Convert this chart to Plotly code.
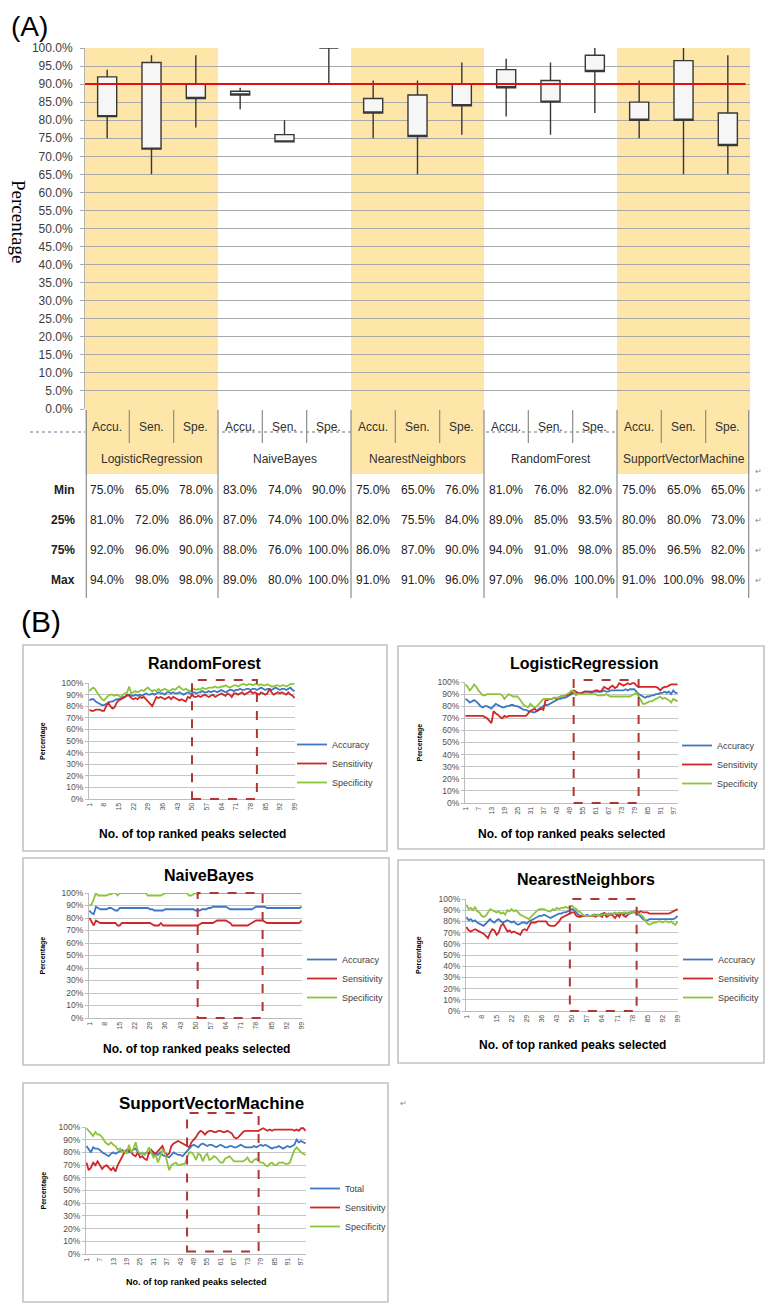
import plotly.graph_objects as go

W, H = 773, 1305

# ---------------- Panel A data ----------------
models = ["LogisticRegression", "NaiveBayes", "NearestNeighbors", "RandomForest", "SupportVectorMachine"]
metrics = ["Accu.", "Sen.", "Spe."]
stat_names = ["Min", "25%", "75%", "Max"]
box_min = [75.0, 65.0, 78.0, 83.0, 74.0, 90.0, 75.0, 65.0, 76.0, 81.0, 76.0, 82.0, 75.0, 65.0, 65.0]
box_q1 = [81.0, 72.0, 86.0, 87.0, 74.0, 100.0, 82.0, 75.5, 84.0, 89.0, 85.0, 93.5, 80.0, 80.0, 73.0]
box_q3 = [92.0, 96.0, 90.0, 88.0, 76.0, 100.0, 86.0, 87.0, 90.0, 94.0, 91.0, 98.0, 85.0, 96.5, 82.0]
box_max = [94.0, 98.0, 98.0, 89.0, 80.0, 100.0, 91.0, 91.0, 96.0, 97.0, 96.0, 100.0, 91.0, 100.0, 98.0]
threshold = 90.0
ticks_a = [0, 5, 10, 15, 20, 25, 30, 35, 40, 45, 50, 55, 60, 65, 70, 75, 80, 85, 90, 95, 100]

# ---------------- Panel B data ----------------
peaks = list(range(1, 100))
ticks_7 = [1, 8, 15, 22, 29, 36, 43, 50, 57, 64, 71, 78, 85, 92, 99]
ticks_6 = [1, 7, 13, 19, 25, 31, 37, 43, 49, 55, 61, 67, 73, 79, 85, 91, 97]
ticks_b = [0, 10, 20, 30, 40, 50, 60, 70, 80, 90, 100]
names_std = ["Accuracy", "Sensitivity", "Specificity"]
names_svm = ["Total", "Sensitivity", "Specificity"]

rf_acc = [85,86,86,84,83,82,81,81,82,83,
          84,84,85,86,86,87,88,88,89,90,
          89,89,90,89,90,89,90,91,90,90,
          91,90,91,92,91,91,90,92,92,91,
          92,91,91,92,91,90,91,92,91,91,
          92,91,92,92,93,92,92,93,92,93,
          93,92,93,94,93,92,93,94,94,93,
          94,94,95,94,94,95,95,94,95,95,
          94,95,96,95,94,95,95,94,95,96,
          95,94,95,95,94,95,96,94,93]
rf_sen = [77,76,76,77,77,77,76,76,80,83,
          80,78,79,83,85,86,87,88,90,89,
          87,86,87,86,88,87,88,86,84,82,
          80,84,88,87,88,87,86,87,88,86,
          88,87,86,85,86,85,84,88,87,90,
          88,88,89,88,89,90,89,88,89,90,
          88,89,90,91,90,89,91,90,88,91,
          91,90,91,92,90,91,92,93,91,92,
          91,90,92,91,90,91,95,92,90,91,
          92,91,92,91,90,92,90,89,87]
rf_spe = [93,95,96,94,91,88,86,85,87,89,
          90,90,89,90,89,88,90,91,92,97,
          91,92,93,92,93,94,93,95,96,94,
          93,94,93,95,93,94,95,94,93,94,
          95,94,96,97,95,94,95,94,93,94,
          95,94,95,94,96,95,95,96,96,96,
          97,96,96,97,97,98,97,96,97,98,
          98,97,98,99,99,98,99,99,98,99,
          99,98,99,98,98,99,98,97,97,98,
          98,97,98,98,97,98,99,99,100]

lr_acc = [86,85,83,84,85,84,82,80,79,80,
          80,79,78,80,82,81,80,79,79,80,
          80,81,81,80,80,79,78,77,77,76,
          76,75,75,76,78,79,80,81,81,82,
          83,84,85,86,86,87,87,88,89,90,
          91,90,90,91,91,92,92,92,91,92,
          92,92,92,92,93,92,92,93,93,93,
          93,93,93,93,94,93,94,94,94,92,
          90,89,88,87,88,88,89,89,90,90,
          91,91,92,91,92,90,93,91,91]
lr_sen = [72,72,72,72,72,72,72,72,72,71,
          70,68,66,76,74,73,71,70,72,71,
          72,72,72,72,72,72,72,72,72,74,
          76,77,78,76,77,78,77,85,85,86,
          86,87,86,87,88,88,89,89,90,91,
          93,92,91,90,91,92,92,92,92,92,
          93,93,92,93,96,95,94,96,97,95,
          96,99,98,97,98,99,98,99,99,97,
          96,96,96,96,96,96,96,96,96,95,
          93,95,96,96,97,98,98,98,98]
lr_spe = [98,96,93,95,98,96,93,91,89,89,
          90,90,90,90,90,90,90,89,86,88,
          90,89,88,88,88,86,83,81,80,79,
          82,80,79,80,82,84,86,86,86,86,
          86,87,87,87,88,88,89,90,91,93,
          92,89,90,90,90,90,90,90,90,90,
          90,89,89,89,89,90,89,88,88,88,
          88,88,88,88,88,88,88,89,90,91,
          88,85,82,82,83,84,84,85,86,87,
          88,86,87,86,85,83,86,85,84]

nb_acc = [86,84,83,89,88,87,87,87,87,88,
          88,87,86,86,88,88,88,88,88,88,
          88,88,88,88,88,88,88,88,87,87,
          86,86,86,86,86,87,87,87,87,87,
          87,87,87,87,87,87,87,87,87,86,
          86,86,87,87,87,88,88,89,89,89,
          89,89,89,89,88,87,87,87,87,87,
          87,87,87,87,87,87,88,89,89,89,
          89,89,88,88,88,88,88,88,88,88,
          88,88,88,88,88,88,88,88,89]
nb_sen = [80,77,74,78,77,76,76,76,76,76,
          76,76,76,74,74,76,76,76,76,76,
          76,76,76,76,76,76,76,76,76,75,
          74,74,74,76,74,74,74,74,74,74,
          74,74,74,74,74,74,74,74,74,74,
          74,75,76,76,76,76,76,76,77,78,
          78,78,78,78,77,76,74,74,74,74,
          74,74,74,74,75,76,77,78,78,78,
          78,77,76,76,76,76,76,76,76,76,
          76,76,76,76,76,76,76,76,78]
nb_spe = [90,91,95,100,98,98,98,98,98,99,
          99,100,100,98,100,100,100,100,100,100,
          100,100,100,100,100,100,100,98,98,98,
          98,98,98,98,99,100,100,100,100,100,
          100,100,100,100,100,100,98,98,99,100,
          99,100,100,100,100,100,100,100,100,100,
          100,100,100,100,100,100,100,100,100,100,
          100,100,100,100,100,100,100,100,100,100,
          100,100,100,100,100,100,100,100,100,100,
          100,100,100,100,100,100,100,100,100]

nn_acc = [84,81,82,80,81,79,78,77,76,78,
          80,82,80,79,81,82,80,79,80,81,
          80,79,80,78,77,78,79,79,78,80,
          81,82,83,84,85,85,86,85,84,83,
          84,85,86,87,87,88,88,89,90,91,
          90,88,86,85,85,85,86,85,85,86,
          86,85,86,87,86,86,87,86,87,87,
          86,87,87,86,87,88,87,88,88,87,
          86,84,82,81,81,82,82,82,82,82,
          82,82,82,82,82,82,82,83,85]
nn_sen = [75,72,71,72,73,72,71,70,69,67,
          65,70,73,72,68,70,76,78,74,71,
          72,70,71,70,69,68,72,73,72,76,
          79,79,79,80,80,80,80,80,77,76,
          76,76,78,80,83,84,85,86,87,88,
          88,85,84,84,85,85,85,85,85,85,
          84,86,85,84,88,84,85,87,85,83,
          86,84,88,85,84,86,88,88,89,89,
          88,89,88,88,88,87,87,87,87,87,
          87,87,87,87,87,88,89,90,91]
nn_spe = [95,91,92,90,93,89,88,85,84,85,
          88,91,90,89,88,89,87,88,86,90,
          89,91,89,90,88,86,85,84,83,82,
          84,86,88,90,91,91,91,90,89,89,
          91,90,92,91,92,92,93,92,93,94,
          92,91,89,88,86,85,85,85,85,86,
          85,86,85,86,86,87,86,87,87,88,
          87,88,87,88,88,87,88,88,89,88,
          87,86,84,81,78,77,78,79,79,80,
          80,79,80,80,79,80,78,77,80]

svm_acc = [85,82,80,84,83,83,82,80,79,78,
           77,79,80,79,80,81,82,80,82,80,
           81,82,83,80,79,79,79,80,79,81,
           78,79,78,80,78,77,77,76,78,80,
           79,78,78,77,79,81,83,85,86,85,
           84,86,87,86,85,86,86,85,84,85,
           86,85,84,84,85,85,84,84,85,86,
           85,84,84,84,84,85,84,85,86,85,
           86,85,84,83,84,84,85,84,83,84,
           85,84,85,86,90,88,89,88,87]
svm_sen = [72,66,68,72,70,73,70,67,69,70,
           68,66,68,65,70,73,76,80,81,82,
           80,78,77,80,76,77,75,74,80,82,
           80,79,81,83,85,80,78,79,85,87,
           88,89,88,87,86,85,84,88,90,92,
           95,97,96,94,96,97,97,96,96,97,
           97,96,96,97,96,95,92,91,92,94,
           96,97,97,97,97,97,97,97,98,99,
           98,97,98,97,98,98,98,98,98,98,
           98,98,98,97,98,97,99,99,97]
svm_spe = [99,97,95,93,96,94,94,92,89,87,
           86,88,86,85,82,83,80,81,79,86,
           80,83,88,81,79,80,78,80,84,80,
           76,78,72,77,82,80,72,66,70,71,
           72,70,70,71,71,76,80,80,78,74,
           79,78,73,77,79,74,75,77,76,74,
           72,72,75,76,77,75,73,73,73,73,
           73,74,76,73,72,74,75,73,72,72,
           70,69,71,72,70,70,72,72,72,71,
           71,72,78,82,84,82,80,79,78]

chart_titles = ["RandomForest", "LogisticRegression", "NaiveBayes", "NearestNeighbors", "SupportVectorMachine"]
window_start = [50, 51, 51, 49, 46]
window_end = [81, 81, 81, 80, 78]
x_title = "No. of top ranked peaks selected"
y_title_b = "Percentage"

# ---------------- helpers ----------------
OFF = 8  # page body margin of the html page


def fx(p):
    return (p - OFF) / W


def fy(p):
    return 1 - (p - OFF) / H


SANS = "Liberation Sans, Arial, sans-serif"
SERIF = "Liberation Serif, Times New Roman, serif"
C_ACC, C_SEN, C_SPE = "#3c78c3", "#d0282a", "#8cc43c"
YELLOW = "#fde6a8"

annotations = []
shapes = []


def ann(text, x, y, xref="paper", yref="paper", size=12, color="#202020", family=SANS,
        xanchor="center", angle=0):
    annotations.append(dict(text=text, x=x, y=y, xref=xref, yref=yref, showarrow=False,
                            xanchor=xanchor, yanchor="middle", textangle=angle,
                            font=dict(family=family, size=size, color=color)))


fig = go.Figure()

# ---------------- Panel A : box chart ----------------
positions = list(range(len(box_q1)))
n = len(box_q1)
fig.add_trace(go.Box(
    x=positions, q1=box_q1, median=box_q1, q3=box_q3,
    lowerfence=box_min, upperfence=box_max,
    width=0.43, whiskerwidth=0, fillcolor="#f6f6f6",
    line=dict(color="#383838", width=1.4),
    showlegend=False, hoverinfo="skip", xaxis="x", yaxis="y"))

shapes.append(dict(type="line", xref="paper", yref="paper", x0=fx(30), x1=fx(750),
                   y0=fy(432), y1=fy(432), line=dict(color="#9aa5b5", width=1.5, dash="dot"),
                   layer="below"))
for g in range(len(models)):
    if g % 2 == 0:
        shapes.append(dict(type="rect", xref="x", yref="paper", x0=3 * g - 0.5, x1=3 * g + 2.5,
                           y0=fy(474), y1=fy(48), fillcolor=YELLOW, line=dict(width=0),
                           layer="below"))
shapes.append(dict(type="line", xref="x", yref="y", x0=-0.5, x1=n - 0.6,
                   y0=threshold, y1=threshold, line=dict(color="#e01010", width=2), layer="above"))

for i in range(n - 1):
    b = i + 0.5
    if (i + 1) % 3 != 0:
        shapes.append(dict(type="line", xref="x", yref="paper", x0=b, x1=b, y0=fy(410), y1=fy(443),
                           line=dict(color="#8c8c8c", width=1.2)))
for g in range(len(models) + 1):
    b = min(max(3 * g - 0.5, -0.47), n - 0.53)
    shapes.append(dict(type="line", xref="x", yref="paper", x0=b, x1=b, y0=fy(410), y1=fy(598),
                       line=dict(color="#8c8c8c", width=1.2)))

for i in range(n):
    ann(metrics[i % 3], i, fy(427), xref="x", size=12, color="#303030")
for g, m in enumerate(models):
    ann(m, 3 * g + 1, fy(459), xref="x", size=12, color="#303030")

row_y = [490, 520, 550, 580]
for r, (label, vals) in enumerate(zip(stat_names, [box_min, box_q1, box_q3, box_max])):
    ann("<b>%s</b>" % label, fx(77), fy(row_y[r]), xanchor="right", size=12)
    for i, v in enumerate(vals):
        ann("%.1f%%" % v, i, fy(row_y[r]), xref="x", size=12)
    ann("\u21b5", fx(758), fy(row_y[r]), size=8, color="#888888")
ann("\u21b5", fx(758), fy(471), size=8, color="#888888")

ann("(A)", fx(9), fy(26), size=28, color="#000000", xanchor="left")
ann("(B)", fx(41), fy(621), size=30, color="#000000")
ann("Percentage", fx(18), fy(221), size=19, color="#000000", family=SERIF, angle=90)

layout = dict(
    xaxis=dict(domain=[fx(85), fx(750)], range=[-0.5, n - 0.5], showgrid=False, zeroline=False,
               showticklabels=False, showline=False, anchor="y", automargin=False),
    yaxis=dict(domain=[fy(409), fy(48)], range=[0, 100], tickvals=ticks_a,
               ticktext=["%.1f%%" % t for t in ticks_a], showgrid=True, gridcolor="#a8a8a8",
               gridwidth=1.3, zeroline=False, showline=True, linecolor="#b4b4b4",
               ticks="outside", ticklen=4, tickcolor="#a8a8a8", ticklabelstandoff=5,
               tickfont=dict(family=SANS, size=12, color="#3c3c3c"), anchor="x", automargin=False),
)

# ---------------- Panel B : line charts ----------------
series_sets = [
    (rf_acc, rf_sen, rf_spe), (lr_acc, lr_sen, lr_spe), (nb_acc, nb_sen, nb_spe),
    (nn_acc, nn_sen, nn_spe), (svm_acc, svm_sen, svm_spe)]
tick_sets = [ticks_7, ticks_6, ticks_7, ticks_7, ticks_6]
name_sets = [names_std, names_std, names_std, names_std, names_svm]

geo = [
    dict(frame=(23, 645, 387, 851), plot=(89, 683, 295, 799), title=(205, 663, 16), xt=(192, 834, 12),
         yt=43, leg=(292, 730), wtop=1.026, wbot=0.0),
    dict(frame=(398, 646, 764, 849), plot=(465, 682, 678, 803), title=(584, 663, 16), xt=(571, 834, 12),
         yt=419, leg=(677, 731), wtop=1.017, wbot=0.0),
    dict(frame=(23, 858, 389, 1065), plot=(89, 893, 302, 1018), title=(209, 875, 16), xt=(196, 1049, 12),
         yt=43, leg=(302, 945), wtop=1.0, wbot=0.0),
    dict(frame=(398, 860, 764, 1063), plot=(466, 899, 678, 1011), title=(586, 879, 16), xt=(572, 1045, 12),
         yt=419, leg=(678, 945), wtop=1.0, wbot=0.0),
    dict(frame=(23, 1083, 388, 1302), plot=(86, 1127, 306, 1254), title=(211, 1103, 17), xt=(196, 1282, 9),
         yt=43, leg=(305, 1174), wtop=1.11, wbot=0.02),
]

for c in range(len(chart_titles)):
    k = c + 2
    g = geo[c]
    xa, ya, lg = "x%d" % k, "y%d" % k, "legend%d" % k
    for vals, nm, col in zip(series_sets[c], name_sets[c], [C_ACC, C_SEN, C_SPE]):
        fig.add_trace(go.Scatter(x=peaks[:len(vals)], y=vals, mode="lines", name=nm,
                                 line=dict(color=col, width=1.8), xaxis=xa, yaxis=ya, legend=lg,
                                 hoverinfo="skip"))
    x0, y0, x1, y1 = g["plot"]
    layout["xaxis%d" % k] = dict(domain=[fx(x0), fx(x1)], range=[0.8, 99.2], tickvals=tick_sets[c],
                                 tickangle=-90, tickfont=dict(family=SANS, size=7, color="#505050"),
                                 showgrid=False, zeroline=False, showline=True, linecolor="#bdbdbd",
                                 anchor=ya, ticks="", automargin=False)
    layout["yaxis%d" % k] = dict(domain=[fy(y1), fy(y0)], range=[0, 100], tickvals=ticks_b,
                                 ticktext=["%d%%" % t for t in ticks_b], showgrid=True,
                                 gridcolor="#c6c6c6", gridwidth=1, zeroline=False, showline=True,
                                 linecolor="#bdbdbd", ticks="outside", ticklen=3, tickcolor="#bdbdbd",
                                 tickfont=dict(family=SANS, size=8.5, color="#505050"), anchor=xa,
                                 automargin=False)
    lx, ly = g["leg"]
    layout[lg] = dict(x=fx(lx), y=fy(ly), xanchor="left", yanchor="top", bgcolor="rgba(0,0,0,0)",
                      borderwidth=0, font=dict(family=SANS, size=9, color="#404040"),
                      itemwidth=30, tracegroupgap=0)
    fx0, fy0, fx1, fy1 = g["frame"]
    shapes.append(dict(type="rect", xref="paper", yref="paper", x0=fx(fx0), x1=fx(fx1),
                       y0=fy(fy1), y1=fy(fy0), line=dict(color="#c2c2c2", width=1.6), layer="below"))
    shapes.append(dict(type="rect", xref=xa, yref="%s domain" % ya, x0=window_start[c],
                       x1=window_end[c], y0=g["wbot"], y1=g["wtop"],
                       line=dict(color="#b03535", width=2, dash="dash"), layer="above"))
    tx, ty, ts = g["title"]
    ann("<b>%s</b>" % chart_titles[c], fx(tx), fy(ty), size=ts, color="#000000")
    xtx, xty, xts = g["xt"]
    ann("<b>%s</b>" % x_title, fx(xtx), fy(xty), size=xts, color="#000000")
    ann("<b>%s</b>" % y_title_b, fx(g["yt"]), 0.5, yref="%s domain" % ya, size=7, color="#000000",
        angle=-90)

for (mx, my) in [(768, 660), (768, 876), (768, 1089), (403, 1103)]:
    ann("\u21b5", fx(mx), fy(my), size=8, color="#888888")

layout.update(dict(
    width=W, height=H, margin=dict(l=0, r=0, t=0, b=0, autoexpand=False), autosize=False,
    paper_bgcolor="white", plot_bgcolor="rgba(0,0,0,0)",
    font=dict(family=SANS, color="#333333"),
    shapes=shapes, annotations=annotations, showlegend=True,
))
fig.update_layout(**layout)
fig.write_html("out.html")
